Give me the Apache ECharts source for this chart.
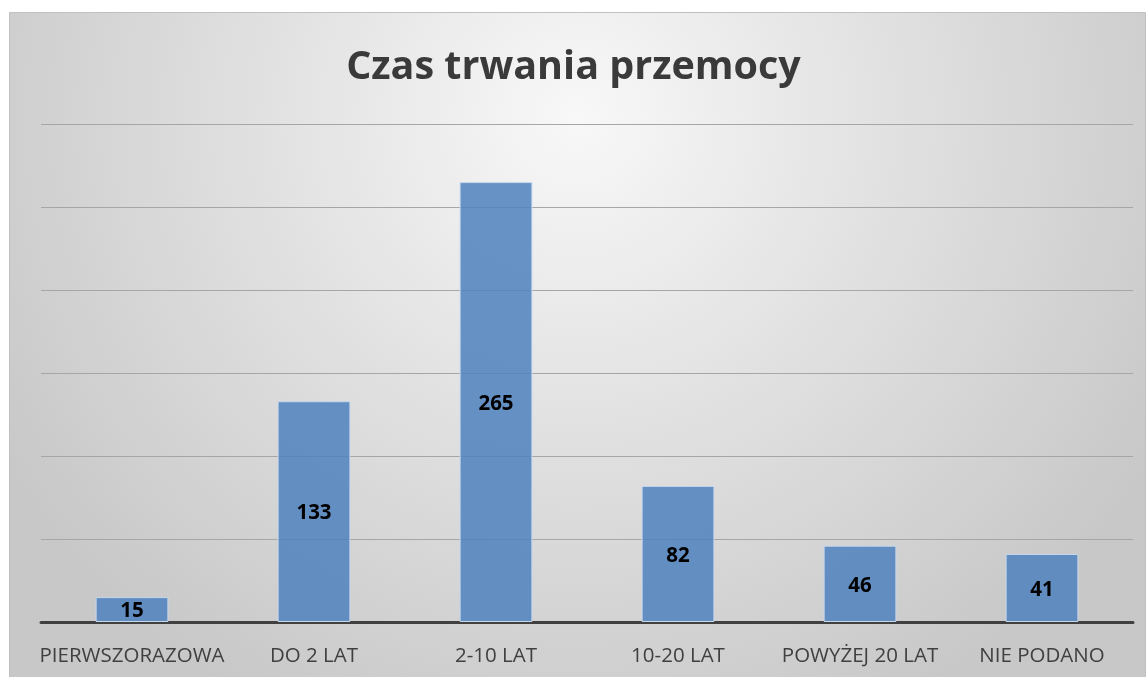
<!DOCTYPE html>
<html>
<head>
<meta charset="utf-8">
<style>html,body{margin:0;padding:0;background:#fff}#c{width:1147px;height:677px}</style>
<script src="https://cdn.jsdelivr.net/npm/echarts@6/dist/echarts.min.js"></script>
</head>
<body>
<div id="c"></div>
<script>
const categories = ['PIERWSZORAZOWA', 'DO 2 LAT', '2-10 LAT', '10-20 LAT', 'POWYŻEJ 20 LAT', 'NIE PODANO'];
const values = [15, 133, 265, 82, 46, 41];
const titleText = 'Czas trwania przemocy';

const chart = echarts.init(document.getElementById('c'));
chart.setOption({
  animation: false,
  graphic: [{
    type: 'rect', z: -10, silent: true,
    shape: { x: 9.5, y: 12.5, width: 1136, height: 700 },
    style: {
      fill: new echarts.graphic.RadialGradient(0.5, 0.15, 0.95, [
        { offset: 0, color: '#f8f8f8' },
        { offset: 0.45, color: '#e2e2e2' },
        { offset: 1, color: '#c8c8c8' }
      ]),
      stroke: '#c0c0c0', lineWidth: 1
    }
  }],
  title: {
    text: titleText, left: 'center', top: 43,
    textStyle: { fontFamily: 'Open Sans', fontWeight: 'bold', fontSize: 39.5, color: '#3a3a3a' }
  },
  grid: { left: 41, right: 14, top: 124, bottom: 55 },
  xAxis: {
    type: 'category', data: categories,
    axisLine: { lineStyle: { color: '#404040', width: 3 } },
    axisTick: { show: false },
    axisLabel: { fontFamily: 'Open Sans', fontSize: 20.5, color: '#404040', margin: 24, interval: 0 }
  },
  yAxis: {
    type: 'value', min: 0, max: 300, interval: 50,
    axisLabel: { show: false }, axisLine: { show: false }, axisTick: { show: false },
    splitLine: { lineStyle: { color: '#a6a6a6', width: 1 } }
  },
  series: [{
    type: 'bar', data: values, barCategoryGap: '60%',
    itemStyle: { color: 'rgba(79,129,189,0.85)', borderColor: '#c8d8ec', borderWidth: 1 },
    label: { show: true, position: 'inside', offset: [0, 2], fontFamily: 'Open Sans', fontWeight: 'bold', fontSize: 20.5, color: '#000' }
  }]
});
</script>
</body>
</html>
